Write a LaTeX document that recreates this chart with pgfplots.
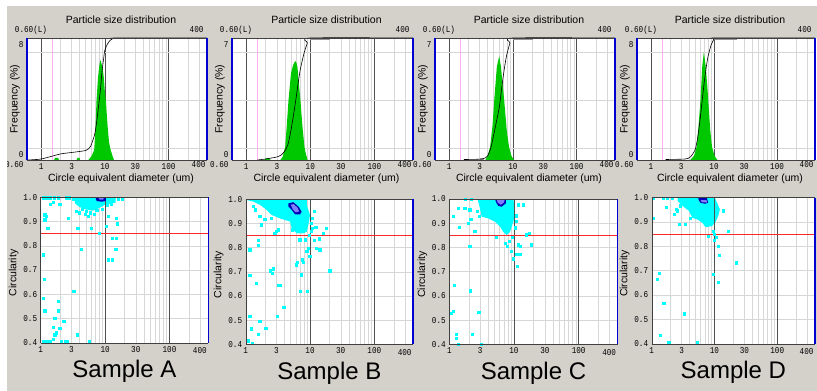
\documentclass[border=0pt]{standalone}
\usepackage{fontspec}
\setmainfont{Liberation Sans}
\newfontfamily\tickfont[FakeStretch=0.85]{Liberation Mono}
\usepackage{pgfplots}
\pgfplotsset{compat=1.18}
\definecolor{bg}{RGB}{212,209,203}
\definecolor{histgreen}{RGB}{0,200,0}
\definecolor{cyanpt}{RGB}{0,255,255}
\definecolor{blob}{RGB}{0,0,185}
\definecolor{blobin}{RGB}{128,128,255}
\definecolor{pinkl}{RGB}{255,175,240}
\definecolor{edgeblue}{RGB}{0,0,210}
\definecolor{redl}{RGB}{255,40,40}
\definecolor{gridl}{RGB}{215,215,215}
\definecolor{darkg}{RGB}{80,80,80}
\definecolor{segg}{RGB}{150,150,150}
\newcommand\lblfont{\fontsize{10.5}{12}\selectfont}
\newcommand\tkfont{\tickfont\fontsize{9}{9}\selectfont}
\pgfplotsset{
 psdTop/.style={scale only axis, clip mode=individual, anchor=south west,
   axis line style={draw=none},
   major tick length=0pt, minor tick length=0pt,
   tick label style={font=\tkfont},
   xmajorgrids=true, xminorgrids=true, major grid style={gridl}, minor grid style={gridl},
   height=122pt, xmin=0.6, xmax=400, ymin=0, ymax=122,
   xtick={1,3,10,30,100}, xticklabels={1,3,10,30,100},
   minor xtick={2,4,5,6,7,8,9,20,40,50,60,70,80,90,200,300},
   ymajorgrids=false},
 psdBot/.style={scale only axis, clip mode=individual, anchor=south west,
   axis line style={draw=none},
   major tick length=0pt, minor tick length=0pt,
   tick label style={font=\tkfont},
   xmajorgrids=true, xminorgrids=true, major grid style={gridl}, minor grid style={gridl},
   xmin=1, xmax=400, ymin=0.4, ymax=1.0,
   xtick={1,3,10,30,100}, xticklabels={1,3,10,30,100},
   minor xtick={2,4,5,6,7,8,9,20,40,50,60,70,80,90,200,300},
   ytick={0.4,0.5,0.6,0.7,0.8,0.9,1.0}, yticklabels={0.4,0.5,0.6,0.7,0.8,0.9,1.0},
   ymajorgrids=true},
 pts/.style={only marks, mark=square*, mark size=1.1pt, color=cyanpt, mark options={draw=cyanpt, fill=cyanpt, line width=0pt}},
}
\newcommand\topgrid{%
 \addplot[darkg, line width=0.7pt] coordinates {(1,0) (1,122)};
 \addplot[darkg, line width=0.7pt] coordinates {(10,0) (10,122)};
 \addplot[darkg, line width=0.7pt] coordinates {(100,0) (100,122)};
 \addplot[gridl] coordinates {(0.6,12) (400,12)};
 \addplot[gridl] coordinates {(0.6,60) (400,60)};
 \addplot[gridl] coordinates {(0.6,108) (400,108)};
 \addplot[pinkl, line width=1pt] coordinates {(1.5,0) (1.5,122)};
}
\newcommand\topdecor[1]{%
 \draw[black!75] (rel axis cs:0,0) -- (rel axis cs:1,0);
 \draw[black!75] (rel axis cs:0,1) -- (rel axis cs:1,1);
 \draw[edgeblue, line width=1.4pt] (rel axis cs:0,0) -- (rel axis cs:0,1);
 \draw[edgeblue, line width=1.4pt] (rel axis cs:1,0) -- (rel axis cs:1,1);
 \node[anchor=base, font=\lblfont] at ([xshift=4pt,yshift=14pt]rel axis cs:0.5,1) {Particle size distribution};
 \node[anchor=base, font=\tkfont] at ([xshift=4pt,yshift=5pt]rel axis cs:0,1) {0.60(L)};
 \node[anchor=base east, font=\tkfont] at ([yshift=5pt]rel axis cs:1,1) {400};
 \node[anchor=base east, font=\tkfont] at ([xshift=#1,yshift=-8pt]rel axis cs:0,0) {0.60};
 \node[anchor=base east, font=\tkfont] at ([xshift=2pt,yshift=-8pt]rel axis cs:1,0) {400};
 \node[rotate=90, font=\lblfont] at ([xshift=-12pt]rel axis cs:0,0.5) {Frequency (\%)};
 \node[anchor=base, font=\lblfont] at ([xshift=4pt,yshift=-22pt]rel axis cs:0.5,0) {Circle equivalent diameter (um)};
}
\newcommand\botgrid{%
 \addplot[darkg, line width=0.7pt] coordinates {(10,0.4) (10,1)};
 \addplot[darkg, line width=0.7pt] coordinates {(100,0.4) (100,1)};
 \addplot[redl, line width=1.1pt] coordinates {(1,0.85) (400,0.85)};
}
\newcommand\botdecor[1]{%
 \draw[black!75] (rel axis cs:0,0) -- (rel axis cs:1,0);
 \draw[black!75] (rel axis cs:0,1) -- (rel axis cs:1,1);
 \draw[black!75] (rel axis cs:0,0) -- (rel axis cs:0,1);
 \draw[edgeblue, line width=1.4pt] (rel axis cs:1,0) -- (rel axis cs:1,1);
 \node[anchor=base east, font=\tkfont] at ([xshift=2pt,yshift=-11pt]rel axis cs:1,0) {400};
 \node[rotate=90, font=\lblfont] at ([xshift=-27pt]rel axis cs:0,0.48) {Circularity};
 \node[anchor=base, font=\fontsize{24}{28}\selectfont] at ([yshift=-35pt]rel axis cs:0.5,0) {Sample #1};
}
\begin{document}
\begin{tikzpicture}[x=1pt,y=1pt]
\useasboundingbox (0,0) rectangle (817,391);
\clip (0,0) rectangle (817,391);
\fill[bg] (0,0) rectangle (817,391);
% ---------------- Sample A ----------------
\fill[white] (27,231) rectangle (207,353);
\begin{axis}[xmode=log, psdTop, at={(27pt,231pt)}, width=180pt, ytick={5,115}, yticklabels={0,8}]
\topgrid
\addplot[fill=histgreen, draw=none] coordinates {(5.5,0) (6.2,4) (6.8,10) (7.1,30) (7.4,60) (7.8,82) (8.2,95) (8.5,100) (8.9,96) (9.4,88) (9.7,80) (10.0,68) (10.4,58) (11.0,35) (11.6,18) (12.3,10) (13.2,4) (13.9,0)} \closedcycle;
\addplot[fill=histgreen, draw=none] coordinates {(1.6,0) (1.65,2) (1.85,2) (1.9,0)} \closedcycle;
\addplot[fill=histgreen, draw=none] coordinates {(3.6,0) (3.7,2) (4.0,2) (4.1,0)} \closedcycle;
\addplot[black, line width=0.6pt, smooth, tension=0.4] coordinates {(0.6,0) (1,1) (2,6) (3,7.5) (4,8.5) (5,9.5) (5.5,11) (6,14) (6.5,20) (7,27) (7.5,40) (8,55) (8.5,70) (9,88) (9.5,100) (10,110) (11,116) (12,119.5) (13,121) (15,122) (400,122)};
\topdecor{0pt}
\end{axis}
\fill[white] (40.7,48.3) rectangle (208.3,193.7);
\begin{axis}[xmode=log, psdBot, at={(40.7pt,48.3pt)}, width=167.6pt, height=145.4pt]
\addplot[fill=cyanpt, draw=none] coordinates {(3.4,0.998) (14.5,0.998) (14.5,0.978) (10,0.97) (8,0.955) (6.5,0.945) (5,0.95) (4,0.96) (3.4,0.975)} --cycle;
\botgrid
\addplot[pts] coordinates {(1.1,0.762) (1.16,0.661) (1.1,0.583) (1.17,0.531) (1.67,0.50) (1.88,0.57) (1.88,0.531) (2.0,0.46) (1.57,0.462) (1.67,0.432) (2.3,0.487) (1.75,0.44) (1.1,0.404) (1.25,0.406) (1.4,0.404) (1.6,0.414) (2.1,0.404) (2.4,0.404) (2.6,0.404) (3.3,0.611) (3.7,0.432) (4.3,0.783) (5.8,0.404) (1.17,0.927) (1.24,0.92) (1.3,0.872) (1.17,0.906) (2.7,0.913) (3.8,0.872) (6.2,0.872) (5.5,0.92) (8.3,0.851) (10.6,0.879) (11.2,0.92) (15.1,0.913) (15.5,0.89) (13,0.831) (15,0.831) (14.8,0.783) (11.2,0.741) (13,0.741) (16,0.99) (18.5,0.99) (1.4,0.97) (1.57,0.98) (2.0,0.97) (1.1,0.997) (1.25,0.997) (1.4,0.997) (1.65,0.997) (1.88,0.997) (2.5,0.997) (2.75,0.997) (3.6,0.94) (4.0,0.935) (4.4,0.95) (4.9,0.93) (5.2,0.94) (6.0,0.935) (6.8,0.93) (7.5,0.945) (9.0,0.95) (11,0.965) (12.5,0.97) (3.2,0.99)};
\addplot[fill=blob, draw=none] coordinates {(7.2,0.999) (10.3,0.999) (10.3,0.985) (9,0.982) (7.5,0.984) (7.2,0.99)} --cycle;
\addplot[fill=blobin, draw=none] coordinates {(8,0.997) (9.5,0.997) (9.4,0.99) (8.2,0.99)} --cycle;
\botdecor{A}
\end{axis}
% ---------------- Sample B ----------------
\fill[bg] (210,0) rectangle (817,391);
\fill[white] (232,231) rectangle (413,353);
\begin{axis}[xmode=log, psdTop, at={(232pt,231pt)}, width=181pt, ytick={5,115}, yticklabels={0,7}]
\topgrid
\addplot[fill=histgreen, draw=none] coordinates {(3.4,0) (3.7,3) (4.05,13) (4.3,35) (4.57,60) (5.0,87) (5.4,95) (5.8,99) (6.1,97) (6.3,93) (6.6,78) (7.0,60) (7.5,35) (8.1,13) (8.6,5) (9.1,0)} \closedcycle;
\addplot[fill=histgreen, draw=none] coordinates {(1.9,0) (2.0,1.5) (2.3,1.5) (2.4,0)} \closedcycle;
\addplot[segg, line width=2pt] coordinates {(10,121) (20,121)};
\addplot[black, line width=0.6pt, smooth, tension=0.4] coordinates {(1.5,0) (2,1) (3,3) (3.5,5) (4,9) (4.5,16) (5,30) (5.5,46) (6,62) (6.5,78) (7,91) (8,107) (9,117) (10,122) (400,122)};
\topdecor{0pt}
\end{axis}
\fill[white] (245.7,46.7) rectangle (413.1,191.7);
\begin{axis}[xmode=log, psdBot, at={(245.7pt,46.7pt)}, width=167.4pt, height=145pt]
\addplot[fill=cyanpt, draw=none] coordinates {(1.04,0.999) (8.9,0.999) (8.9,0.977) (10,0.935) (9.4,0.894) (8.9,0.866) (7.9,0.859) (6.2,0.859) (5.19,0.88) (4.89,0.908) (3.42,0.921) (2.54,0.935) (2.12,0.956) (1.67,0.977) (1.32,0.99) (1.04,0.997)} --cycle;
\botgrid
\addplot[pts] coordinates {(1.17,0.79) (1.17,0.684) (1.48,0.652) (1.67,0.494) (1.17,0.515) (1.24,0.463) (1.57,0.44) (1.1,0.414) (1.28,0.404) (2.07,0.466) (2.45,0.703) (2.7,0.712) (2.6,0.694) (3.3,0.643) (3.5,0.643) (3.95,0.552) (3.1,0.515) (1.57,0.83) (1.57,0.81) (1.77,0.894) (2.86,0.859) (3.2,0.873) (6.2,0.728) (6.4,0.739) (7.7,0.749) (8.0,0.739) (9.0,0.783) (9.5,0.797) (10,0.763) (7.4,0.687) (7.2,0.62) (9.2,0.62) (7.0,0.832) (8.4,0.832) (11.9,0.828) (12.7,0.797) (13.9,0.836) (10.6,0.866) (12.4,0.883) (11.9,0.949) (18.1,0.88) (16.1,0.859) (14.3,0.79) (20.5,0.703) (1.32,0.97) (1.4,0.956) (1.67,0.928) (2.0,0.915) (2.54,0.921) (3.0,0.866) (5.4,0.873) (10.5,0.9) (11,0.92) (10.8,0.88) (9.8,0.85)};
\addplot[fill=blob, draw=none] coordinates {(4.6,0.983) (5.5,0.988) (6.6,0.97) (7.4,0.949) (7.0,0.938) (5.85,0.938) (5.2,0.956) (4.6,0.97)} --cycle;
\addplot[fill=blobin, draw=none] coordinates {(5.0,0.978) (5.6,0.98) (6.4,0.965) (6.8,0.95) (6.0,0.946) (5.4,0.958)} --cycle;
\botdecor{B}
\end{axis}
% ---------------- Sample C ----------------
\fill[bg] (415,0) rectangle (817,391);
\fill[white] (435,231) rectangle (615,353);
\begin{axis}[xmode=log, psdTop, at={(435pt,231pt)}, width=180pt, ytick={5,115}, yticklabels={0,7}]
\topgrid
\addplot[fill=histgreen, draw=none] coordinates {(3.7,0) (4.0,4) (4.4,13) (4.8,35) (5.1,60) (5.6,93) (6.1,104) (6.5,93) (7.0,72) (7.3,60) (8.0,30) (8.7,13) (9.5,4) (10.4,0)} \closedcycle;
\addplot[segg, line width=2pt] coordinates {(10,121) (21,121)};
\addplot[segg, line width=2pt] coordinates {(3,1) (3.5,1)};
\addplot[black, line width=0.6pt, smooth, tension=0.4] coordinates {(1.7,0.5) (3.3,1) (4,4) (4.5,12) (5,25) (5.5,38) (6.1,52) (6.5,66) (7,82) (7.5,95) (8,105) (9,117) (10,122) (400,122)};
\topdecor{0pt}
\end{axis}
\fill[white] (449.3,46.7) rectangle (617.6,192);
\begin{axis}[xmode=log, psdBot, at={(449.3pt,46.7pt)}, width=168.3pt, height=145.3pt]
\addplot[fill=cyanpt, draw=none] coordinates {(2.8,0.999) (9.8,0.999) (10.4,0.948) (9.8,0.906) (8.7,0.865) (7.7,0.851) (6.8,0.865) (6.1,0.886) (5.1,0.906) (4.0,0.92) (3.16,0.927) (2.98,0.961) (2.8,0.989)} --cycle;
\botgrid
\addplot[pts] coordinates {(1.15,0.927) (1.38,0.961) (1.43,0.882) (1.75,0.961) (1.97,0.9) (2.09,0.955) (2.16,0.916) (1.09,0.528) (1.15,0.535) (1.22,0.642) (1.3,0.439) (1.38,0.4) (1.3,0.425) (2.14,0.62) (2.3,0.441) (2.09,0.803) (2.88,0.532) (3.16,0.4) (2.49,0.865) (2.91,0.927) (2.7,0.948) (5.4,0.84) (7.5,0.817) (7.9,0.803) (8.5,0.824) (9.2,0.783) (9.9,0.752) (11,0.772) (12.4,0.772) (11.2,0.72) (11.7,0.81) (12.7,0.803) (15.7,0.851) (17.3,0.858) (18.7,0.81) (14,0.975) (11,0.906) (11.7,0.975) (1.8,0.997) (2.2,0.997) (10.8,0.93) (10.5,0.88) (9.5,0.84)};
\addplot[fill=blob, draw=none] coordinates {(5.1,0.999) (7.5,0.999) (7.5,0.982) (6.4,0.968) (5.7,0.972) (5.3,0.986)} --cycle;
\addplot[fill=blobin, draw=none] coordinates {(5.4,0.998) (7.2,0.998) (7.0,0.986) (6.3,0.976) (5.6,0.985)} --cycle;
\botdecor{C}
\end{axis}
% ---------------- Sample D ----------------
\fill[bg] (619,0) rectangle (817,391);
\fill[white] (637,231) rectangle (817,353);
\begin{axis}[xmode=log, psdTop, at={(637pt,231pt)}, width=178pt, ytick={5,115}, yticklabels={0,8}]
\topgrid
\addplot[fill=histgreen, draw=none] coordinates {(4.2,0) (4.8,4) (5.3,13) (5.7,35) (6.1,60) (6.5,93) (6.9,108) (7.4,93) (7.8,75) (8.1,60) (8.7,30) (9.3,13) (10.2,4) (11.3,0)} \closedcycle;
\addplot[segg, line width=2pt] coordinates {(10,121) (23,121)};
\addplot[black, line width=0.6pt, smooth, tension=0.4] coordinates {(1.7,0.5) (3.5,1) (4.2,3) (5,10) (5.5,22) (6,40) (6.5,60) (7,78) (7.5,92) (8,103) (9,115) (10,121) (10.5,122) (400,122)};
\topdecor{0pt}
\end{axis}
\fill[white] (651.7,47.3) rectangle (815,193.3);
\begin{axis}[xmode=log, psdBot, at={(651.7pt,47.3pt)}, width=163.3pt, height=146pt]
\addplot[fill=cyanpt, draw=none] coordinates {(2.6,0.999) (10.2,0.999) (12.2,0.952) (11.5,0.924) (10.2,0.897) (9.1,0.883) (7.2,0.879) (6.4,0.897) (5.3,0.911) (4.44,0.917) (3.94,0.945) (3.1,0.966) (2.6,0.986)} --cycle;
\botgrid
\addplot[pts] coordinates {(1.06,0.997) (1.52,0.997) (1.8,0.997) (2.17,0.997) (1.06,0.913) (1.71,0.959) (2.45,0.952) (2.3,0.931) (2.6,0.945) (2.9,0.966) (2.75,0.89) (3.5,0.89) (4.2,0.913) (1.32,0.69) (1.24,0.663) (1.57,0.564) (3.3,0.522) (1.4,0.433) (1.88,0.406) (5.3,0.406) (8.1,0.839) (9.6,0.862) (10,0.849) (10.8,0.835) (10,0.824) (11.5,0.8) (12.2,0.762) (22.2,0.732) (9.6,0.683) (11.5,0.653) (16.9,0.862) (13.8,0.945)};
\addplot[fill=blob, draw=none] coordinates {(5.5,0.999) (7.6,0.999) (7.9,0.979) (7.1,0.975) (6.0,0.979) (5.65,0.989)} --cycle;
\addplot[fill=blobin, draw=none] coordinates {(6.0,0.99) (7.5,0.99) (7.6,0.98) (6.3,0.981)} --cycle;
\botdecor{D}
\end{axis}
\fill[white] (0,385) rectangle (817,391);
\fill[white] (0,0) rectangle (7,391);
\end{tikzpicture}
\end{document}
